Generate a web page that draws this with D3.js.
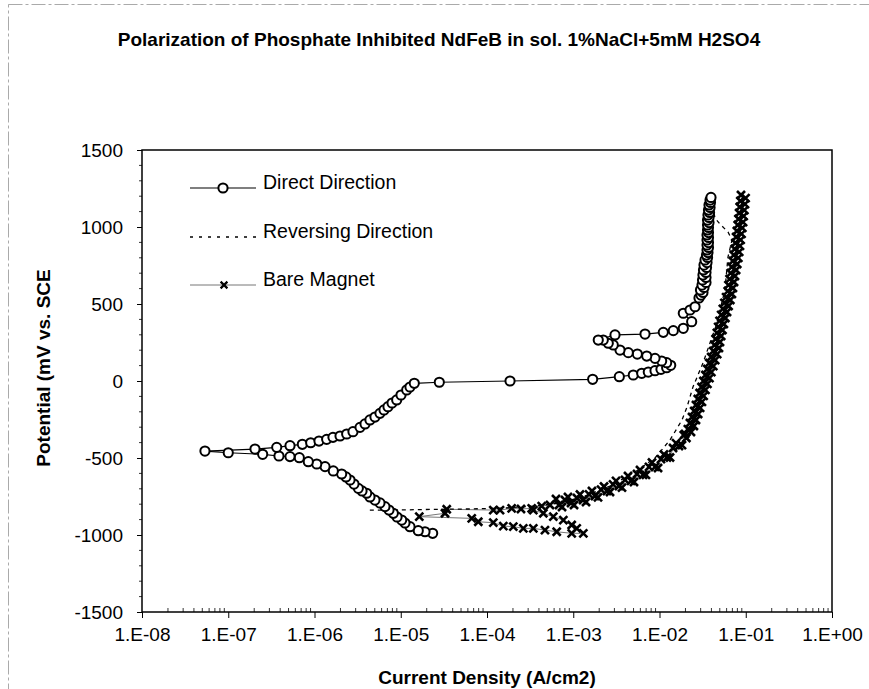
<!DOCTYPE html>
<html>
<head>
<meta charset="utf-8">
<script src="https://cdn.jsdelivr.net/npm/d3@7"></script>
<style>
  body { margin: 0; background: #fff; }
  svg { display: block; font-family: Arial, "Liberation Sans", sans-serif; }
</style>
</head>
<body>
<svg id="chart" width="869" height="689"></svg>
<script>
// all currents are stored as log10 of current density (A/cm2), potentials in mV vs SCE

// Direct Direction (circles)
var directE = [-989, -979, -972, -946, -922, -903, -883, -859, -838, -816, -792, -773, -753, -729, -714, -697, -669, -643, -623,
  -604, -584, -556, -539, -524, -498, -491, -487, -476, -466, -455,
  -442, -431, -420, -411, -401, -390, -379, -366, -357, -344, -329, -301, -279, -253, -234, -210, -188, -167, -143, -123, -91, -58, -39, -15,
  -8, 0, 11, 28, 39, 50, 58, 67, 76, 86, 102, 119, 130, 147, 162, 175, 184, 201, 234, 245, 266, 266,
  299, 305, 316, 327, 342, 385, 440, 461, 482, 539,
  558, 575, 591, 607, 623, 640, 656, 672, 688, 705, 721, 737, 753, 769, 786, 802, 818, 834, 851, 867,
  883, 899, 916, 932, 948, 964, 981, 997, 1013, 1029, 1045, 1062, 1078, 1094, 1110, 1127, 1143, 1159, 1175, 1192];
var directLogI = [-4.630, -4.719, -4.797, -4.893, -4.951, -4.989, -5.043, -5.086, -5.136, -5.183, -5.241, -5.299, -5.357, -5.395, -5.449, -5.492, -5.542, -5.588, -5.635,
  -5.685, -5.782, -5.878, -5.974, -6.072, -6.176, -6.284, -6.412, -6.601, -7.000, -7.270,
  -6.690, -6.438, -6.284, -6.141, -6.044, -5.948, -5.859, -5.786, -5.704, -5.627, -5.554, -5.472, -5.414, -5.357, -5.299, -5.241, -5.194, -5.148, -5.101, -5.047, -4.997, -4.931, -4.893, -4.843,
  -4.553, -3.733, -2.775, -2.466, -2.304, -2.206, -2.130, -2.052, -1.983, -1.917, -1.870, -1.917, -1.975, -2.052, -2.148, -2.257, -2.362, -2.458, -2.536, -2.594, -2.652, -2.710,
  -2.516, -2.168, -1.956, -1.840, -1.724, -1.627, -1.724, -1.646, -1.588, -1.542,
  -1.519, -1.496, -1.525, -1.484, -1.507, -1.461, -1.501, -1.461, -1.496, -1.461, -1.490, -1.455, -1.484, -1.449, -1.472, -1.443, -1.455, -1.438, -1.449, -1.432,
  -1.449, -1.432, -1.449, -1.432, -1.449, -1.432, -1.443, -1.432, -1.443, -1.426, -1.443, -1.426, -1.438, -1.420, -1.432, -1.414, -1.426, -1.409, -1.414, -1.403];

// Reversing Direction (dotted line only)
var reverseE = [1192, 1058, 1019, 968, 916, 805, 591, 357, 117, -39, -169, -253, -383, -500, -591, -682, -747, -792, -812, -825, -831, -834, -838, -838];
var reverseLogI = [-1.403, -1.357, -1.299, -1.206, -1.159, -1.206, -1.241, -1.345, -1.496, -1.612, -1.681, -1.739, -1.878, -2.052, -2.284, -2.574, -2.864, -3.154, -3.443, -3.791, -4.197, -4.661, -5.067, -5.403];

// Bare Magnet (x markers)
var bareE = [-838, -859, -881, -903, -935, -957, -989, -989, -979, -968, -957, -957, -946, -942, -920, -914, -892, -881,
  -859, -833, -838, -838, -827, -831, -827, -812, -805,
  -766, -805, -818, -773, -753, -792, -805, -760, -737, -773, -786, -736, -714, -747, -756, -705, -685, -714, -721, -671, -649, -682,
  -692, -642, -617, -649, -656, -604, -578, -610, -610, -558, -529, -558, -565, -507, -477, -497, -497, -435, -403, -422, -416, -344,
  -370, -351, -331, -312, -292, -273, -253, -234, -214, -195, -175, -156, -136, -117, -97, -78, -58, -39, -19, 0,
  19, 39, 58, 78, 97, 117, 136, 156, 175, 195, 214, 234, 253, 273, 292, 312, 331, 351, 370, 390,
  409, 429, 448, 468, 487, 507, 526, 545, 565, 584, 604, 623, 643, 662, 682, 701, 721, 740, 760, 779,
  799, 818, 838, 857, 877, 896, 916, 935, 955, 974, 994, 1013, 1032, 1052, 1071, 1091, 1110, 1130, 1149, 1169, 1188, 1208];
var bareLogI = [-3.463, -3.347, -3.231, -3.115, -3.018, -2.960, -2.883, -3.018, -3.192, -3.328, -3.463, -3.579, -3.695, -3.811, -3.927, -4.101, -4.177, -4.785,
  -4.487, -4.467, -3.927, -3.849, -3.714, -3.606, -3.482, -3.366, -3.270,
  -3.200, -3.165, -3.130, -3.096, -3.061, -3.026, -2.991, -2.957, -2.922, -2.887, -2.852, -2.817, -2.783, -2.748, -2.713, -2.678, -2.643, -2.609, -2.574, -2.539, -2.504, -2.470,
  -2.435, -2.400, -2.365, -2.330, -2.296, -2.261, -2.226, -2.191, -2.157, -2.122, -2.087, -2.052, -2.017, -1.983, -1.948, -1.913, -1.878, -1.843, -1.809, -1.774, -1.739, -1.704,
  -1.688, -1.719, -1.635, -1.671, -1.601, -1.647, -1.577, -1.623, -1.552, -1.598, -1.529, -1.577, -1.508, -1.556, -1.488, -1.535, -1.467, -1.513, -1.444, -1.491,
  -1.421, -1.468, -1.399, -1.446, -1.376, -1.423, -1.354, -1.401, -1.331, -1.377, -1.311, -1.363, -1.299, -1.350, -1.285, -1.335, -1.270, -1.320, -1.254, -1.304,
  -1.236, -1.285, -1.217, -1.266, -1.199, -1.248, -1.179, -1.228, -1.161, -1.209, -1.149, -1.201, -1.136, -1.188, -1.125, -1.176, -1.112, -1.163, -1.099, -1.150,
  -1.086, -1.139, -1.076, -1.129, -1.067, -1.121, -1.059, -1.112, -1.049, -1.103, -1.040, -1.093, -1.031, -1.085, -1.024, -1.077, -1.016, -1.070, -1.009, -1.063, -1.002, -1.055];

var xTicks = [1e-8, 1e-7, 1e-6, 1e-5, 1e-4, 1e-3, 1e-2, 1e-1, 1];
var yTicks = [-1500, -1000, -500, 0, 500, 1000, 1500];
var legendLabels = ["Direct Direction", "Reversing Direction", "Bare Magnet"];

var titleText = "Polarization of Phosphate Inhibited NdFeB in sol. 1%NaCl+5mM H2SO4";
var xTitle = "Current Density (A/cm2)";
var yTitle = "Potential (mV vs. SCE";

var svg = d3.select("#chart");
var pL = 142, pR = 832, pT = 150, pB = 612;

var x = d3.scaleLog().domain([1e-8, 1]).range([pL, pR]);
var y = d3.scaleLinear().domain([-1500, 1500]).range([pB, pT]);

// faint scan border
svg.append("rect")
  .attr("x", 8.5).attr("y", 4.5).attr("width", 900).attr("height", 700)
  .attr("fill", "none").attr("stroke", "#aaa").attr("stroke-dasharray", "14,3,3,3");

svg.append("text")
  .attr("x", 439).attr("y", 46).attr("text-anchor", "middle")
  .attr("font-weight", "bold").attr("font-size", 19)
  .text(titleText);

// x axis
function fmtSci(d) {
  var e = Math.round(Math.log10(d));
  return "1.E" + (e < 0 ? "-" : "+") + String(Math.abs(e)).padStart(2, "0");
}
var xAxis = d3.axisBottom(x).tickValues(xTicks).tickFormat(fmtSci).tickSize(6).tickPadding(10);
var gx = svg.append("g").attr("transform", "translate(0," + pB + ")").call(xAxis);
gx.select(".domain").remove();
gx.selectAll("text").attr("font-size", 19).attr("fill", "#000");

// minor x ticks (inside)
var minorX = [];
for (var p = -8; p < 0; p++) for (var m = 2; m < 10; m++) minorX.push(m * Math.pow(10, p));
svg.append("g").selectAll("line").data(minorX).enter().append("line")
  .attr("x1", function (d) { return x(d); }).attr("x2", function (d) { return x(d); })
  .attr("y1", pB).attr("y2", pB - 4).attr("stroke", "#000").attr("stroke-width", 0.8);

// y axis
var yAxis = d3.axisLeft(y).tickValues(yTicks).tickFormat(function (d) { return String(d); })
  .tickSize(5).tickPadding(14);
var gy = svg.append("g").attr("transform", "translate(" + pL + ",0)").call(yAxis);
gy.select(".domain").remove();
gy.selectAll("text").attr("font-size", 19).attr("fill", "#000");

var minorY = d3.range(-1400, 1500, 100).filter(function (d) { return d % 500 !== 0; });
svg.append("g").selectAll("line").data(minorY).enter().append("line")
  .attr("x1", pL - 3).attr("x2", pL)
  .attr("y1", function (d) { return y(d); }).attr("y2", function (d) { return y(d); })
  .attr("stroke", "#000").attr("stroke-width", 0.8);

// plot frame
svg.append("rect")
  .attr("x", pL).attr("y", pT).attr("width", pR - pL).attr("height", pB - pT)
  .attr("fill", "none").attr("stroke", "#000").attr("stroke-width", 1.5);

svg.append("text")
  .attr("x", 487).attr("y", 684).attr("text-anchor", "middle")
  .attr("font-weight", "bold").attr("font-size", 19)
  .text(xTitle);

svg.append("text")
  .attr("transform", "translate(50,368) rotate(-90)")
  .attr("text-anchor", "middle")
  .attr("font-weight", "bold").attr("font-size", 19)
  .text(yTitle);

function pts(E, logI) { return E.map(function (e, i) { return [Math.pow(10, logI[i]), e]; }); }
var line = d3.line().x(function (d) { return x(d[0]); }).y(function (d) { return y(d[1]); });

var plot = svg.append("g");
var crossPath = "M-4,-4L4,4M-4,4L4,-4";

// Bare Magnet
var bare = pts(bareE, bareLogI);
plot.append("path").datum(bare).attr("d", line)
  .attr("fill", "none").attr("stroke", "#777").attr("stroke-width", 1);
plot.append("g").selectAll("path").data(bare).enter().append("path")
  .attr("transform", function (d) { return "translate(" + x(d[0]) + "," + y(d[1]) + ")"; })
  .attr("d", crossPath).attr("stroke", "#000").attr("stroke-width", 2.6);

// Reversing Direction
plot.append("path").datum(pts(reverseE, reverseLogI)).attr("d", line)
  .attr("fill", "none").attr("stroke", "#000").attr("stroke-width", 1.3)
  .attr("stroke-dasharray", "4,4");

// Direct Direction
var direct = pts(directE, directLogI);
plot.append("path").datum(direct).attr("d", line)
  .attr("fill", "none").attr("stroke", "#000").attr("stroke-width", 1.2);
plot.append("g").selectAll("circle").data(direct).enter().append("circle")
  .attr("cx", function (d) { return x(d[0]); }).attr("cy", function (d) { return y(d[1]); })
  .attr("r", 4.6).attr("fill", "#fff").attr("stroke", "#000").attr("stroke-width", 2);

// legend
var lg = svg.append("g");
var rows = [188, 237, 285];
lg.append("line").attr("x1", 190).attr("x2", 256).attr("y1", rows[0]).attr("y2", rows[0]).attr("stroke", "#000").attr("stroke-width", 1.2);
lg.append("circle").attr("cx", 223).attr("cy", rows[0]).attr("r", 4.6).attr("fill", "#fff").attr("stroke", "#000").attr("stroke-width", 2);
lg.append("line").attr("x1", 190).attr("x2", 256).attr("y1", rows[1]).attr("y2", rows[1]).attr("stroke", "#000").attr("stroke-width", 1.5).attr("stroke-dasharray", "3,6");
lg.append("line").attr("x1", 190).attr("x2", 256).attr("y1", rows[2]).attr("y2", rows[2]).attr("stroke", "#777").attr("stroke-width", 1);
lg.append("path").attr("transform", "translate(224," + rows[2] + ") scale(0.85)").attr("d", crossPath).attr("stroke", "#000").attr("stroke-width", 2.6);
lg.selectAll("text").data(legendLabels).enter().append("text")
  .attr("x", 263).attr("y", function (d, i) { return rows[i] + 1; })
  .attr("font-size", 19.5)
  .text(function (d) { return d; });
</script>
</body>
</html>
